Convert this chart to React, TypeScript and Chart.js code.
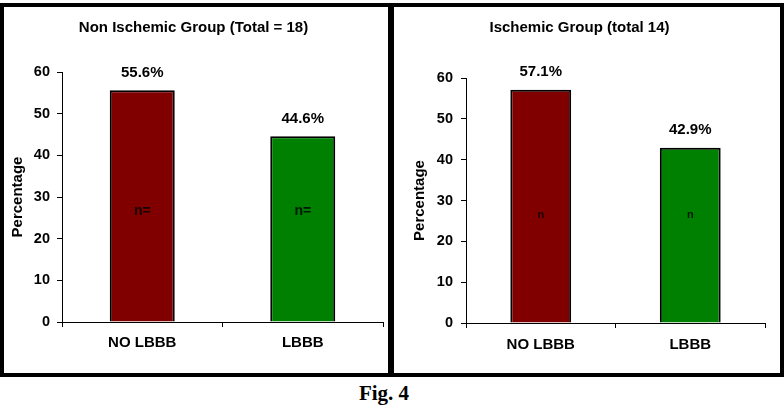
import React, { useEffect, useRef } from "react";
import { Chart, registerables } from "chart.js";

Chart.register(...registerables);

// Data
const categories = ["NO LBBB", "LBBB"];
const nonIschemicValues = [55.6, 44.6];
const ischemicValues = [57.1, 42.9];
const barColors = ["#800000", "#008000"];
const yTicks = [0, 10, 20, 30, 40, 50, 60];
const nonIschemicTitle = "Non Ischemic Group (Total = 18)";
const ischemicTitle = "Ischemic Group (total 14)";
const nonIschemicInnerLabel = "n=";
const ischemicInnerLabel = "n";
const innerLabelLevel = 26.5;

const FONT = "Arial, 'Liberation Sans', Helvetica, sans-serif";

type PanelProps = {
  left: number;
  width: number;
  title: string;
  values: number[];
  innerLabel: string;
  innerLabelSize: number;
  yWidth: number;
  xHeight: number;
  padRight: number;
  titleTop: number;
  titleBottom: number;
  yTitlePad: number;
  yTickPad: number;
  xTickPad: number;
  barPct: number;
};

const valueLabels = {
  id: "valueLabels",
  afterDatasetsDraw(chart: any, _args: any, opts: any) {
    const ctx = chart.ctx;
    const meta = chart.getDatasetMeta(0);
    const data = chart.data.datasets[0].data as number[];
    const yScale = chart.scales.y;
    ctx.save();
    ctx.textAlign = "center";
    ctx.textBaseline = "middle";
    meta.data.forEach((bar: any, i: number) => {
      ctx.fillStyle = "#000";
      ctx.font = `bold 15px ${FONT}`;
      ctx.fillText(`${data[i].toFixed(1)}%`, bar.x, bar.y - 17.5);
      ctx.fillStyle = "rgba(5,5,5,0.85)";
      ctx.font = `bold ${opts.innerSize}px ${FONT}`;
      ctx.fillText(opts.inner, bar.x, yScale.getPixelForValue(innerLabelLevel));
    });
    ctx.restore();
  },
};

function Panel(p: PanelProps) {
  const ref = useRef<HTMLCanvasElement>(null);
  useEffect(() => {
    if (!ref.current) return;
    const chart = new Chart(ref.current, {
      type: "bar",
      data: {
        labels: categories,
        datasets: [
          {
            data: p.values,
            backgroundColor: barColors,
            borderColor: "#000",
            borderWidth: 2,
            categoryPercentage: 1,
            barPercentage: p.barPct,
          },
        ],
      },
      options: {
        animation: false,
        responsive: false,
        events: [],
        layout: { padding: { left: 0, right: p.padRight, top: 0, bottom: 0 } },
        plugins: {
          legend: { display: false },
          tooltip: { enabled: false },
          title: {
            display: true,
            text: p.title,
            color: "#000",
            font: { family: FONT, size: 15, weight: "bold" },
            padding: { top: p.titleTop, bottom: p.titleBottom },
          },
          valueLabels: { inner: p.innerLabel, innerSize: p.innerLabelSize },
        } as any,
        scales: {
          x: {
            grid: {
              display: true,
              drawOnChartArea: false,
              drawTicks: true,
              tickLength: 5,
              color: "#000",
              offset: true,
            },
            border: { display: true, color: "#000", width: 1 },
            ticks: {
              color: "#000",
              padding: p.xTickPad,
              font: { family: FONT, size: 15, weight: "bold" },
            },
            afterFit: (s: any) => {
              s.height = p.xHeight;
            },
          },
          y: {
            min: 0,
            max: 60,
            afterBuildTicks: (s: any) => {
              s.ticks = yTicks.map((v) => ({ value: v }));
            },
            grid: {
              display: true,
              drawOnChartArea: false,
              drawTicks: true,
              tickLength: 5,
              color: "#000",
            },
            border: { display: true, color: "#000", width: 1 },
            ticks: {
              color: "#000",
              padding: p.yTickPad,
              font: { family: FONT, size: 14.5, weight: "bold" },
            },
            title: {
              display: true,
              text: "Percentage",
              color: "#000",
              font: { family: FONT, size: 15, weight: "bold" },
              padding: { top: p.yTitlePad, bottom: 0 },
            },
            afterFit: (s: any) => {
              s.width = p.yWidth;
            },
          },
        },
      },
      plugins: [valueLabels],
    });
    return () => chart.destroy();
  }, []);

  const inner = p.width - 8;
  return (
    <div
      style={{
        position: "absolute",
        left: p.left,
        top: 3,
        width: p.width,
        height: 374,
        border: "4px solid #000",
        boxSizing: "border-box",
        background: "#fff",
      }}
    >
      <canvas ref={ref} width={inner} height={366} style={{ display: "block" }} />
    </div>
  );
}

export default function App() {
  useEffect(() => {
    document.body.style.margin = "0";
    document.body.style.background = "#fff";
  }, []);
  return (
    <div style={{ position: "relative", width: 784, height: 414, background: "#fff" }}>
      <Panel
        left={0}
        width={392}
        title={nonIschemicTitle}
        values={nonIschemicValues}
        innerLabel={nonIschemicInnerLabel}
        innerLabelSize={14}
        yWidth={58}
        xHeight={51}
        padRight={5}
        titleTop={12}
        titleBottom={35}
        yTitlePad={4.5}
        yTickPad={7}
        xTickPad={7}
        barPct={0.405}
      />
      <Panel
        left={390}
        width={394}
        title={ischemicTitle}
        values={ischemicValues}
        innerLabel={ischemicInnerLabel}
        innerLabelSize={11}
        yWidth={72}
        xHeight={50}
        padRight={15}
        titleTop={12}
        titleBottom={41}
        yTitlePad={17}
        yTickPad={8}
        xTickPad={8}
        barPct={0.407}
      />
      <div
        style={{
          position: "absolute",
          left: 0,
          width: 768,
          top: 381,
          textAlign: "center",
          fontFamily: "'Liberation Serif', 'Times New Roman', serif",
          fontWeight: "bold",
          fontSize: 21,
          lineHeight: "24px",
          color: "#000",
        }}
      >
        Fig. 4
      </div>
    </div>
  );
}
